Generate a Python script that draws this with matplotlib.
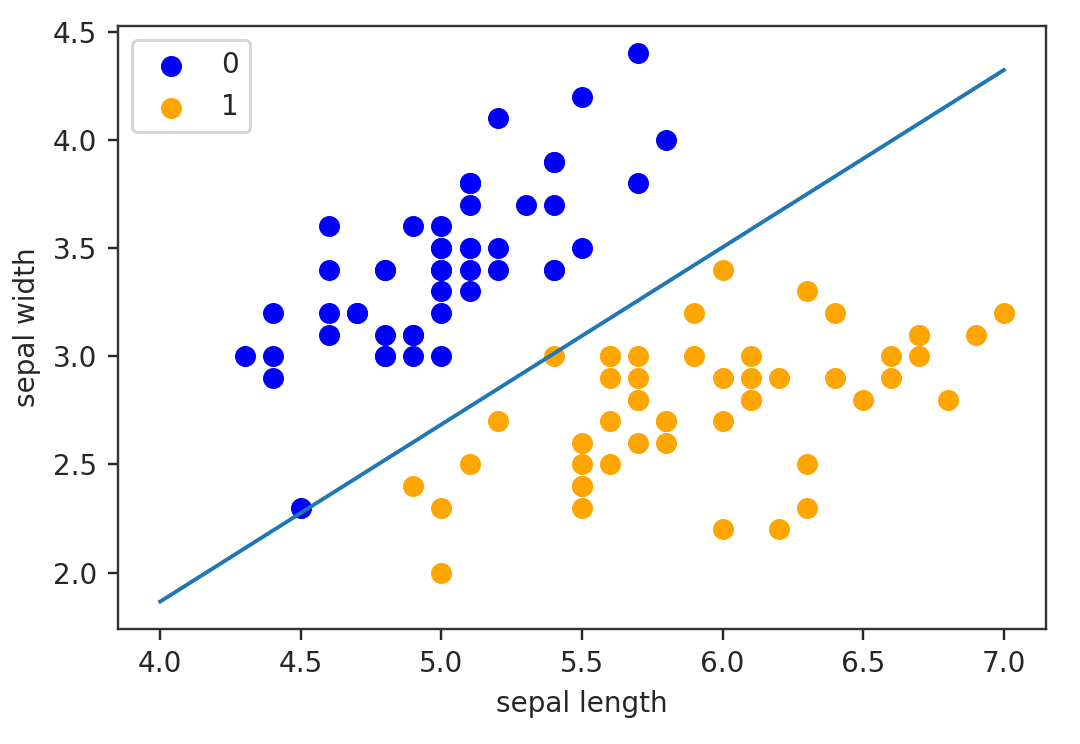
import numpy as np
import matplotlib
matplotlib.use("Agg")
import matplotlib.pyplot as plt

# iris: setosa (0) and versicolor (1), sepal length / sepal width
setosa_len = [5.1, 4.9, 4.7, 4.6, 5.0, 5.4, 4.6, 5.0, 4.4, 4.9, 5.4, 4.8, 4.8, 4.3, 5.8, 5.7, 5.4,
              5.1, 5.7, 5.1, 5.4, 5.1, 4.6, 5.1, 4.8, 5.0, 5.0, 5.2, 5.2, 4.7, 4.8, 5.4, 5.2, 5.5,
              4.9, 5.0, 5.5, 4.9, 4.4, 5.1, 5.0, 4.5, 4.4, 5.0, 5.1, 4.8, 5.1, 4.6, 5.3, 5.0]
setosa_wid = [3.5, 3.0, 3.2, 3.1, 3.6, 3.9, 3.4, 3.4, 2.9, 3.1, 3.7, 3.4, 3.0, 3.0, 4.0, 4.4, 3.9,
              3.5, 3.8, 3.8, 3.4, 3.7, 3.6, 3.3, 3.4, 3.0, 3.4, 3.5, 3.4, 3.2, 3.1, 3.4, 4.1, 4.2,
              3.1, 3.2, 3.5, 3.6, 3.0, 3.4, 3.5, 2.3, 3.2, 3.5, 3.8, 3.0, 3.8, 3.2, 3.7, 3.3]
versi_len = [7.0, 6.4, 6.9, 5.5, 6.5, 5.7, 6.3, 4.9, 6.6, 5.2, 5.0, 5.9, 6.0, 6.1, 5.6, 6.7, 5.6,
             5.8, 6.2, 5.6, 5.9, 6.1, 6.3, 6.1, 6.4, 6.6, 6.8, 6.7, 6.0, 5.7, 5.5, 5.5, 5.8, 6.0,
             5.4, 6.0, 6.7, 6.3, 5.6, 5.5, 5.5, 6.1, 5.8, 5.0, 5.6, 5.7, 5.7, 6.2, 5.1, 5.7]
versi_wid = [3.2, 3.2, 3.1, 2.3, 2.8, 2.8, 3.3, 2.4, 2.9, 2.7, 2.0, 3.0, 2.2, 2.9, 2.9, 3.1, 3.0,
             2.7, 2.2, 2.5, 3.2, 2.8, 2.5, 2.8, 2.9, 3.0, 2.8, 3.0, 2.9, 2.6, 2.4, 2.4, 2.7, 2.7,
             3.0, 3.4, 3.1, 2.3, 3.0, 2.5, 2.6, 3.0, 2.6, 2.3, 2.7, 3.0, 2.9, 2.9, 2.5, 2.8]

# perceptron weights / bias
w = [8.19, -10.0]
b = -14.1

plt.rcParams['font.size'] = 9.3
plt.rcParams['text.color'] = '#262626'
plt.rcParams['axes.labelcolor'] = '#262626'
plt.rcParams['xtick.color'] = '#262626'
plt.rcParams['ytick.color'] = '#262626'
plt.rcParams['axes.edgecolor'] = '#333333'

fig = plt.figure(figsize=(5, 744 / 216), dpi=216)
ax = fig.add_axes([118 / 1080, 1 - 629 / 744, (1046 - 118) / 1080, (629 - 26) / 744])

ax.scatter(setosa_len, setosa_wid, color='blue', label='0', s=36)
ax.scatter(versi_len, versi_wid, color='orange', label='1', s=36)

x_points = np.linspace(4, 7, 10)
y_ = -(w[0] * x_points + b) / w[1]
ax.plot(x_points, y_, linewidth=1.3)

ax.set_xlabel('sepal length')
ax.set_ylabel('sepal width')
ax.legend(loc='upper left')
fig.savefig('out.png', dpi=216)
